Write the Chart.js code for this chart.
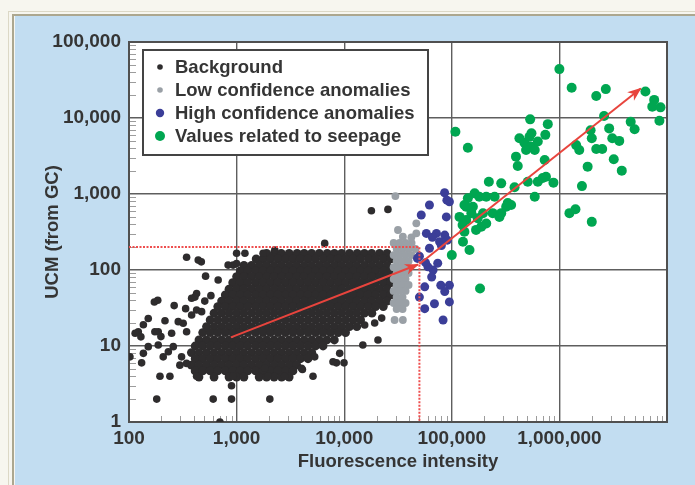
<!DOCTYPE html>
<html><head><meta charset="utf-8">
<script src="https://cdn.jsdelivr.net/npm/chart.js@4/dist/chart.umd.min.js"></script>
<style>
html,body{margin:0;padding:0;background:#f7f6ef;width:695px;height:485px;overflow:hidden;}
#f1{position:absolute;left:8px;top:11px;width:700px;height:480px;border-top:1px solid #dcd8c6;border-left:1px solid #dcd8c6;}
#f2{position:absolute;left:12px;top:14px;width:700px;height:480px;border-top:2px solid #aca78f;border-left:2px solid #aca78f;}
#wrap{position:absolute;left:15px;top:16px;width:680px;height:469px;background:#c2ddf1;}
canvas{display:block}
</style></head><body>
<div id="f1"></div><div id="f2"></div>
<div id="wrap"><canvas id="c" width="680" height="469"></canvas></div>
<script>
// ---- data ----
const seriesNames = ['Background', 'Low confidence anomalies', 'High confidence anomalies', 'Values related to seepage'];
const xAxisTitle = 'Fluorescence intensity';
const yAxisTitle = 'UCM (from GC)';
const xTickLabels = [100, 1000, 10000, 100000, 1000000];
const yTickLabels = [1, 10, 100, 1000, 10000, 100000];

// dense background cloud: [UCM, [fluorescence values...]]
const backgroundRows = [
  [165, [1900,2240,2600,3080,3650,4250,4980,5870,6950,8100,9450,11200,13200,15400,18000,21300,25000]],
  [140, [1520,1760,2060,2430,2840,3340,3900,4610,5420,6400,7480,8790,10300,12100,14200,16800,19600,23100,27000]],
  [115, [1170,1380,1620,1900,2230,2620,3080,3620,4250,5000,5870,6900,8100,9500,11200,13100,15400,18100,21300,25000]],
  [97,  [1080,1270,1500,1760,2060,2420,2840,3340,3920,4610,5420,6360,7480,8790,10300,12100,14200,16700,19600,23100,27100]],
  [82,  [1000,1170,1380,1620,1900,2230,2620,3080,3620,4250,5000,5870,6900,8100,9500,11200,13100,15400,18100,21300,25000]],
  [68,  [920,1080,1270,1500,1760,2060,2420,2840,3340,3920,4610,5420,6360,7480,8790,10300,12100,14200,16700,19600,23100,27100]],
  [56,  [850,1000,1170,1380,1620,1900,2230,2620,3080,3620,4250,5000,5870,6900,8100,9500,11200,13100,15400,18100,21300,25000]],
  [47,  [785,920,1080,1270,1500,1760,2060,2420,2840,3340,3920,4610,5420,6360,7480,8790,10300,12100,14200,16700,19600,23100,27100]],
  [39,  [725,850,1000,1170,1380,1620,1900,2230,2620,3080,3620,4250,5000,5870,6900,8100,9500,11200,13100,15400,18100,21300,25000]],
  [33,  [668,785,920,1080,1270,1500,1760,2060,2420,2840,3340,3920,4610,5420,6360,7480,8790,10300,12100,14200,16700,19600,23100]],
  [27,  [617,725,850,1000,1170,1380,1620,1900,2230,2620,3080,3620,4250,5000,5870,6900,8100,9500,11200,13100,15400,18100]],
  [22,  [568,668,785,920,1080,1270,1500,1760,2060,2420,2840,3340,3920,4610,5420,6360,7480,8790,10300,12100,14200]],
  [18,  [525,617,725,850,1000,1170,1380,1620,1900,2230,2620,3080,3620,4250,5000,5870,6900,8100,9500,11200,13100]],
  [15,  [484,568,668,785,920,1080,1270,1500,1760,2060,2420,2840,3340,3920,4610,5420,6360,7480,8790,10300]],
  [12,  [447,525,617,725,850,1000,1170,1380,1620,1900,2230,2620,3080,3620,4250,5000,5870,6900,8100]],
  [10,  [412,484,568,668,785,920,1080,1270,1500,1760,2060,2420,2840,3340,3920,4610,5420,6360]],
  [8.2, [380,447,525,617,725,850,1000,1170,1380,1620,1900,2230,2620,3080,3620,4250,5000]],
  [6.8, [412,484,568,668,785,920,1080,1270,1500,1760,2060,2420,2840,3340,3920,4610]],
  [5.6, [380,447,525,617,725,850,1000,1170,1380,1620,1900,2230,2620,3080,3620]],
  [4.7, [412,484,568,668,785,920,1080,1270,1500,1760,2060,2420,2840,3340]],
  [3.9, [447,617,850,1000,1170,1620,1900,2230,2620,3080]]
];
// scattered background points [fluorescence, UCM]
const backgroundSingles = [
  [343,147],[440,135],[470,128],[515,83],[674,74],[185,40],[172,38],[263,34],[336,31],[425,49],[410,44],
  [506,39],[577,46],[151,23],[136,19],[122,15.4],[129,13.2],[114,14.7],[216,21.5],[187,15.4],[174,15.4],
  [198,13.3],[249,14.7],[319,19.9],[343,15.4],[287,20.9],[382,25.6],[425,29.8],[473,28.3],[187,10.3],
  [151,9.8],[136,8.0],[131,6.0],[102,7.2],[208,7.2],[232,8.4],[258,9.8],[308,7.2],[297,5.6],[343,5.9],
  [194,4.0],[240,4.0],[181,2.0],[425,4.0],[606,2.0],[897,2.0],[897,3.0],[700,1.0],[2036,2.0],[929,116],
  [834,116],[1000,166],[1195,166],[1763,166],[2264,183],[6590,224],[17900,603],[25500,627],[20600,12],
  [14900,10.3],[8470,6.0],[9960,6.0],[5320,7.2],[9080,8.0],[4090,4.9],[5130,4.0],[2800,4.0],[1963,4.0],
  [15500,18.9],[19200,20.1],[22300,23.3],[853,4.0],[930,4.0],[1828,5.1],[4010,5.1],[7870,6.2],[382,42.5],[1000,122]
];
// low confidence anomalies: [UCM, [fluorescence values...]]
const lowConfidenceRows = [
  [227, [28800,32700,37200,42300]],
  [189, [30700,34900,39700,46000]],
  [157, [28800,32700,37200,42300]],
  [131, [30700,34900,39700]],
  [109, [28800,32700,37200]],
  [91,  [30700,34900,39700]],
  [76,  [28800,32700,37200]],
  [63.5,[30700,34900,39700]],
  [53,  [28800,32700,37200]],
  [44,  [30700,34900]],
  [36.8,[28800,32700,37200]],
  [30.7,[30700,34900]],
  [22,  [29400,35100]]
];
const lowConfidenceSingles = [[29900,940],[46800,411],[31600,336],[35100,274],[42100,269],[46800,304]];
const highConfidence = [
  [85700,1040],[95000,790],[90000,830],[62000,716],[52000,530],[89000,500],[58000,303],[72000,303],[86000,288],
  [62000,193],[50000,152],[48000,142],[77000,235],[91000,247],[74000,123],[67000,100],[60000,110],[65000,81],
  [56000,60],[79000,63],[95000,63],[86000,52],[50000,44],[69000,36],[56000,31],[95000,38],[83000,22],
  [66000,270],[80000,210],[57000,125]
];
const seepage = [
  [1.0e6,44000],[1.3e6,25000],[2.2e6,19500],[2.7e6,24000],[6.3e6,22300],[7.6e6,17300],[7.3e6,14100],[8.7e6,13800],
  [8.5e6,9200],[4.6e6,8900],[5.0e6,7100],[2.6e6,10600],[2.9e6,7300],[1.95e6,6900],[2.0e6,5400],[3.1e6,5400],
  [3.6e6,5000],[2.2e6,3900],[2.5e6,3900],[1.43e6,4400],[1.53e6,3800],[1.83e6,2290],[3.2e6,2870],[3.8e6,2030],
  [1.62e6,1270],[1.24e6,560],[1.41e6,630],[2.0e6,430],[535000,9600],[780000,8300],[740000,6000],[425000,5400],
  [473000,4730],[527000,5650],[545000,4200],[490000,3800],[590000,3800],[395000,3100],[410000,2340],[730000,2800],
  [221000,1450],[288000,1380],[383000,1230],[508000,1450],[630000,1450],[750000,1690],[880000,1410],[590000,920],
  [108000,6600],[141000,4070],[163000,1020],[141000,880],[136000,680],[152000,560],[136000,455],[180000,920],
  [209000,920],[250000,920],[356000,716],[288000,560],[188000,370],[209000,410],[168000,337],[131000,318],
  [127000,235],[146000,183],[100000,157],[183000,57],[700000,1620],[550000,6300],[630000,4900],[118000,500],
  [157000,680],[174000,480],[240000,560],[331000,760],[126000,390],[131000,716],[195000,557],[277000,500],[320000,680]
];
const thresholdLine = [[100,200],[50000,200],[50000,1]];
const trendLow = [[885,13],[48500,118]];
const trendHigh = [[50000,120],[5700000,24500]];

// ---- styles ----
const COL = {bg:'#2e2c2d', low:'#9aa0a6', high:'#3b3e98', seep:'#00a651', red:'#e8443d', text:'#353535', grid:'#5e5e5e'};
const FONT = '"Liberation Sans", Arial, Helvetica, sans-serif';

const pairs = arr => arr.map(([x, y]) => ({x, y}));
const rows = r => r.flatMap(([y, xs]) => xs.map(x => ({x, y})));
const isMajor = v => Math.abs(Math.log10(v) - Math.round(Math.log10(v))) < 1e-9;
function logTicks(min, max) {
  const t = [];
  for (let e = Math.round(Math.log10(min)); e <= Math.round(Math.log10(max)); e++)
    for (let m = 1; m <= 9; m++) { const v = m * Math.pow(10, e); if (v >= min && v <= max) t.push({value: v}); }
  return t;
}

const decor = {
  id: 'decor',
  beforeDraw(chart) {
    const {ctx, chartArea: a} = chart;
    ctx.save(); ctx.fillStyle = '#ffffff';
    ctx.fillRect(a.left, a.top, a.right - a.left, a.bottom - a.top); ctx.restore();
  },
  beforeDatasetsDraw(chart) {
    const {ctx, chartArea: a, scales: {x, y}} = chart;
    ctx.save();
    ctx.strokeStyle = '#9c9c9c'; ctx.lineWidth = 1;
    x.ticks.forEach(t => { if (isMajor(t.value)) return;
      const p = Math.round(x.getPixelForValue(t.value)) + 0.5;
      ctx.beginPath(); ctx.moveTo(p, a.bottom); ctx.lineTo(p, a.bottom - 6); ctx.stroke(); });
    y.ticks.forEach(t => { if (isMajor(t.value)) return;
      const p = Math.round(y.getPixelForValue(t.value)) + 0.5;
      ctx.beginPath(); ctx.moveTo(a.left, p); ctx.lineTo(a.left + 7, p); ctx.stroke(); });
    ctx.strokeStyle = '#505050'; ctx.lineWidth = 2;
    ctx.strokeRect(a.left, a.top, a.right - a.left, a.bottom - a.top);
    ctx.restore();
  },
  afterDatasetsDraw(chart) {
    const ctx = chart.ctx;
    chart.data.datasets.forEach((ds, i) => {
      if (!ds.arrow) return;
      const pts = chart.getDatasetMeta(i).data;
      const p1 = pts[pts.length - 2], p2 = pts[pts.length - 1];
      const ang = Math.atan2(p2.y - p1.y, p2.x - p1.x);
      ctx.save(); ctx.translate(p2.x, p2.y); ctx.rotate(ang);
      ctx.beginPath(); ctx.moveTo(1, 0); ctx.lineTo(-13, -5.5); ctx.lineTo(-9, 0); ctx.lineTo(-13, 5.5); ctx.closePath();
      ctx.fillStyle = ds.borderColor; ctx.fill(); ctx.restore();
    });
  },
  afterDraw(chart) {
    const {ctx, chartArea: a} = chart;
    const L = a.left + 14, T = a.top + 8, W = 285, H = 105;
    ctx.save();
    ctx.fillStyle = '#ffffff'; ctx.fillRect(L, T, W, H);
    ctx.strokeStyle = '#444444'; ctx.lineWidth = 2; ctx.strokeRect(L, T, W, H);
    const cols = [COL.bg, COL.low, COL.high, COL.seep], rad = [2.8, 2.8, 4.2, 5];
    ctx.font = 'bold 18.5px ' + FONT; ctx.textBaseline = 'middle'; ctx.textAlign = 'left';
    seriesNames.forEach((n, i) => {
      const cy = T + 17 + i * 23;
      ctx.fillStyle = cols[i]; ctx.beginPath(); ctx.arc(L + 17, cy, rad[i], 0, Math.PI * 2); ctx.fill();
      ctx.fillStyle = COL.text; ctx.fillText(n, L + 32, cy + 1);
    });
    ctx.restore();
  }
};

const tickFont = {family: FONT, size: 19, weight: 'bold'};
const titleFont = {family: FONT, size: 18.5, weight: 'bold'};
const gridColor = c => (c.tick && isMajor(c.tick.value)) ? COL.grid : 'rgba(0,0,0,0)';

new Chart(document.getElementById('c'), {
  type: 'scatter',
  data: {
    datasets: [
      {label: 'threshold', type: 'line', data: pairs(thresholdLine), borderColor: '#ee4e4e', borderWidth: 2,
       borderDash: [2, 1.5], pointRadius: 0, fill: false, tension: 0, order: 0},
      {label: 'trend low', type: 'line', data: pairs(trendLow), borderColor: COL.red, borderWidth: 2,
       pointRadius: 0, fill: false, tension: 0, order: 0, arrow: true},
      {label: 'trend high', type: 'line', data: pairs(trendHigh), borderColor: COL.red, borderWidth: 2,
       pointRadius: 0, fill: false, tension: 0, order: 0, arrow: true},
      {label: seriesNames[3], data: pairs(seepage), backgroundColor: COL.seep, borderWidth: 0, pointRadius: 5, order: 1},
      {label: seriesNames[2], data: pairs(highConfidence), backgroundColor: COL.high, borderWidth: 0, pointRadius: 4.5, order: 2},
      {label: seriesNames[1], data: rows(lowConfidenceRows).concat(pairs(lowConfidenceSingles)), backgroundColor: COL.low, borderWidth: 0, pointRadius: 3.9, order: 3},
      {label: seriesNames[0], data: pairs(backgroundSingles), backgroundColor: COL.bg, borderWidth: 0, pointRadius: 3.8, order: 4},
      {label: seriesNames[0] + ' (dense)', data: rows(backgroundRows), backgroundColor: COL.bg, borderWidth: 0, pointRadius: 4.4, order: 5}
    ]
  },
  options: {
    responsive: false, animation: false, devicePixelRatio: 1,
    layout: {padding: {left: 0, top: 26, right: 28, bottom: 0}},
    plugins: {legend: {display: false}, tooltip: {enabled: false}},
    scales: {
      x: {
        type: 'logarithmic', min: 100, max: 1e7,
        afterBuildTicks: s => { s.ticks = logTicks(100, 1e7); },
        afterFit: s => { s.height = 63; },
        grid: {color: gridColor, lineWidth: 1.4, drawTicks: false},
        border: {display: false},
        ticks: {autoSkip: false, maxRotation: 0, padding: 5, font: tickFont, color: COL.text,
          callback: v => (isMajor(v) && xTickLabels.includes(v)) ? v.toLocaleString('en-US') : ''},
        title: {display: true, text: xAxisTitle, font: titleFont, color: COL.text, padding: {top: 0, bottom: 12}}
      },
      y: {
        type: 'logarithmic', min: 1, max: 1e5,
        afterBuildTicks: s => { s.ticks = logTicks(1, 1e5); },
        afterFit: s => { s.width = 114; },
        grid: {color: gridColor, lineWidth: 1.4, drawTicks: false},
        border: {display: false},
        ticks: {autoSkip: false, padding: 8, font: tickFont, color: COL.text,
          callback: v => (isMajor(v) && yTickLabels.includes(v)) ? v.toLocaleString('en-US') : ''},
        title: {display: true, text: yAxisTitle, font: titleFont, color: COL.text, padding: {top: 27, bottom: 0}}
      }
    }
  },
  plugins: [decor]
});
</script></body></html>
